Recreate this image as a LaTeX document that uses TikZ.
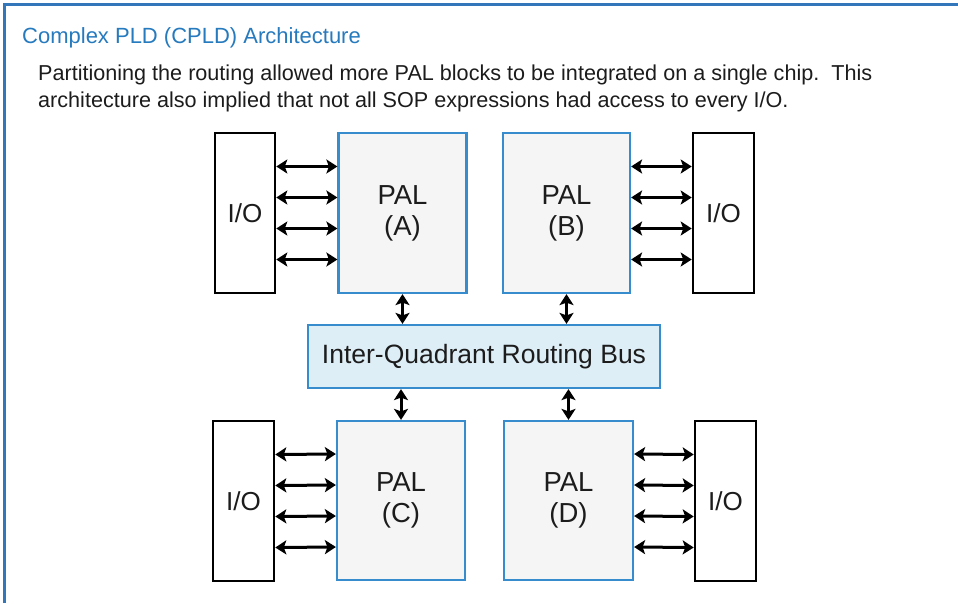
\documentclass[tikz,border=0pt]{standalone}
\usepackage{fontspec}
\setmainfont{Liberation Sans}
\usetikzlibrary{arrows.meta,calc}
\definecolor{frameblue}{RGB}{52,118,186}
\definecolor{titleblue}{RGB}{38,122,190}
\definecolor{palblue}{RGB}{55,140,205}
\definecolor{palfill}{RGB}{245,245,246}
\definecolor{busfill}{RGB}{222,238,247}
\definecolor{txt}{RGB}{28,28,28}
\tikzset{
  iobox/.style={draw=black, line width=2.6pt, fill=white, minimum width=60pt, minimum height=160pt, inner sep=0pt, text=txt, font=\fontsize{26}{30}\selectfont},
  palbox/.style={draw=palblue, line width=2.2pt, fill=palfill, minimum width=128pt, minimum height=160pt, inner sep=0pt, text=txt, align=center, font=\fontsize{27.5}{31}\selectfont},
  busbox/.style={draw=palblue, line width=2.2pt, fill=busfill, minimum width=352pt, minimum height=63pt, inner sep=0pt, text=txt, font=\fontsize{26.5}{30}\selectfont},
  bi/.style={line width=3pt, black, {Stealth[length=11pt,width=14pt,inset=2.5pt]}-{Stealth[length=11pt,width=14pt,inset=2.5pt]}},
}
\begin{document}
\begin{tikzpicture}[x=1pt,y=-1pt]
\useasboundingbox (0,0) rectangle (958,603);
\fill[white] (0,0) rectangle (958,603);
\draw[frameblue, line width=3pt] (4,603) -- (4,4) -- (958,4);
\node[anchor=west, text=titleblue, font=\fontsize{22}{26}\selectfont, inner sep=0pt] (title) at (22,38) {Complex PLD (CPLD) Architecture};
\node[anchor=west, text=txt, font=\fontsize{21.6}{26}\selectfont, inner sep=0pt] (line1) at (38,75) {Partitioning the routing allowed more PAL blocks to be integrated on a single chip.\ \ This};
\node[anchor=west, text=txt, font=\fontsize{21.6}{26}\selectfont, inner sep=0pt] (line2) at (38,102) {architecture also implied that not all SOP expressions had access to every I/O.};
% top
\node[iobox] (ioA) at (245,213) {I/O};
\node[palbox] (pA) at (402.5,213) {PAL\\(A)};
\node[palbox, minimum width=127pt] (pB) at (566.5,213) {PAL\\(B)};
\node[iobox, minimum width=61pt] (ioB) at (723.5,213) {I/O};
% bus
\node[busbox] (bus) at (484,356.5) {Inter-Quadrant Routing Bus};
% bottom
\node[iobox, minimum width=61pt] (ioC) at (243.5,501) {I/O};
\node[palbox, minimum height=159pt] (pC) at (401,500.5) {PAL\\(C)};
\node[palbox, minimum width=129pt, minimum height=159pt] (pD) at (568.5,500.5) {PAL\\(D)};
\node[iobox, minimum width=61pt] (ioD) at (725.5,501) {I/O};
% horizontal arrows
\foreach \o in {46.5,15.5,-15.5,-46.5}{
  \draw[bi] ([yshift=\o pt]ioA.east) -- ([yshift=\o pt]pA.west);
  \draw[bi] ([yshift=\o pt]pB.east) -- ([yshift=\o pt]ioB.west);
  \draw[bi] ([yshift=\o pt]ioC.east) -- ([yshift=\o pt]pC.west);
  \draw[bi] ([yshift=\o pt]pD.east) -- ([yshift=\o pt]ioD.west);
}
% vertical arrows
\draw[bi] (pA.south) -- (bus.north -| pA.south);
\draw[bi] (pB.south) -- (bus.north -| pB.south);
\draw[bi] (bus.south -| pC.north) -- (pC.north);
\draw[bi] (bus.south -| pD.north) -- (pD.north);
\end{tikzpicture}
\end{document}
